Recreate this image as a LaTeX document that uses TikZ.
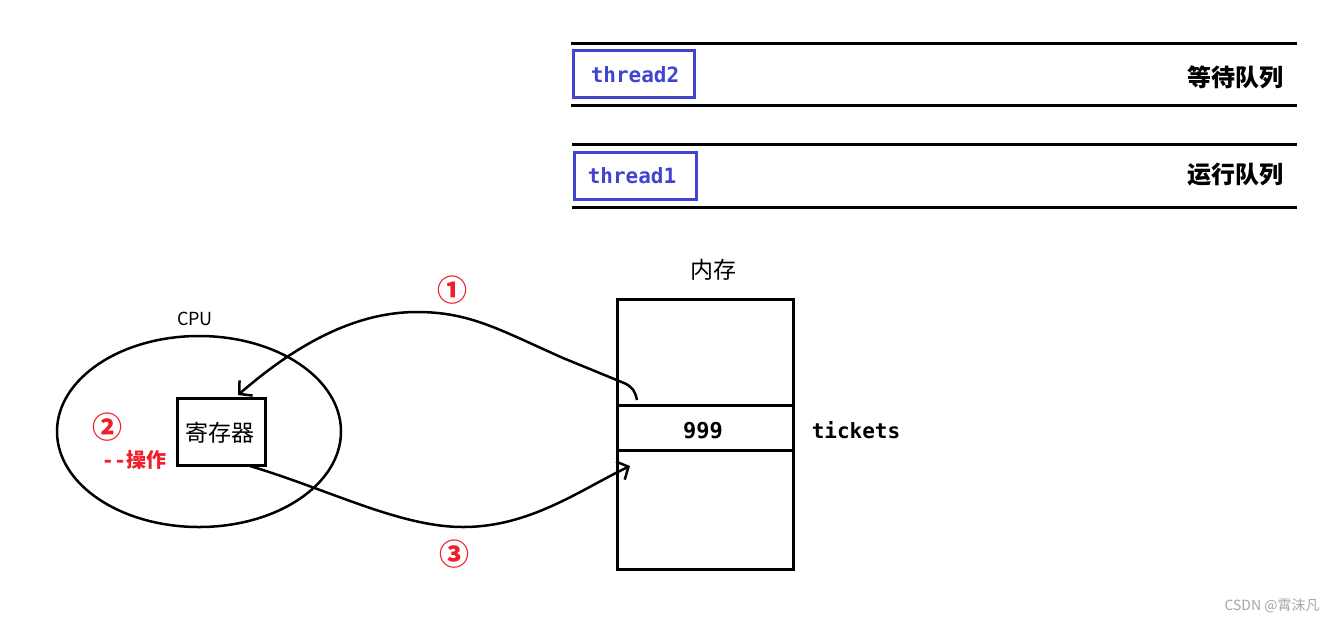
\documentclass[tikz,border=0pt]{standalone}
\usepackage{fontspec}
\setmainfont{Noto Sans CJK SC}
\newfontfamily\monof{DejaVu Sans Mono}
\usetikzlibrary{shapes.geometric,arrows.meta}
\definecolor{tblue}{RGB}{64,68,208}
\definecolor{tred}{RGB}{240,30,40}
\definecolor{wgray}{RGB}{165,165,165}
\begin{document}
\begin{tikzpicture}[x=1pt,y=-1pt,
  qline/.style={line width=3pt},
  tbox/.style={draw=tblue,line width=3pt,minimum height=47pt,inner sep=0pt},
  ttext/.style={text=tblue,font=\monof\bfseries\fontsize{21}{21}\selectfont,inner sep=0pt},
  qlabel/.style={font=\bfseries\fontsize{24}{24}\selectfont,inner sep=0pt},
  cell/.style={draw,line width=3pt,minimum width=176pt,inner sep=0pt},
  conn/.style={line width=2.5pt,-{Straight Barb[length=9pt,width=20pt]}},
  num/.style={text=tred,font=\bfseries\fontsize{30}{30}\selectfont,inner sep=0pt},
  plain/.style={inner sep=0pt}]
\useasboundingbox (0,0) rectangle (1337,622);
% queues
\draw[qline] (571,43) -- (1297,43);
\draw[qline] (571,105) -- (1297,105);
\draw[qline] (572,144) -- (1297,144);
\draw[qline] (572,207) -- (1297,207);
\node[tbox,minimum width=121pt] (t2box) at (633.5,73.5) {};
\node[ttext] (t2) at (635,75) {thread2};
\node[tbox,minimum width=122pt] (t1box) at (635,175.5) {};
\node[ttext] (t1) at (632,176) {thread1};
\node[qlabel] (wq) at (1235,77) {等待队列};
\node[qlabel] (rq) at (1235,175) {运行队列};
% memory
\node[plain,font=\fontsize{23}{23}\selectfont] (memlabel) at (713,270) {内存};
\node[cell,minimum height=106pt] (memtop) at (705,352) {};
\node[cell,minimum height=45pt] (memval) at (705,427.5) {};
\node[cell,minimum height=119pt] (membot) at (705,509.5) {};
\node[plain,font=\monof\bfseries\fontsize{22}{22}\selectfont] (val) at (703,430.5) {999};
\node[plain,font=\monof\bfseries\fontsize{21}{21}\selectfont] (tickets) at (856,430) {tickets};
% cpu
\node[draw,ellipse,line width=2.5pt,minimum width=284pt,minimum height=191pt,inner sep=0pt] (cpu) at (199,431.5) {};
\node[plain,font=\fontsize{18}{18}\selectfont] (cpulabel) at (195,319) {CPU};
\node[draw,line width=3pt,minimum width=88pt,minimum height=67pt,inner sep=0pt] (reg) at (221,431.5) {};
\node[plain,font=\fontsize{23}{23}\selectfont] (regtext) at (220,433) {寄存器};
\node[num] (n2) at (107,427) {②};
\node[plain,text=tred,font=\bfseries\fontsize{20}{20}\selectfont] (op) at (134,460) {{\monof\bfseries -{}-}操作};
\node[num] (n1) at (452,290) {①};
\node[num] (n3) at (454,554) {③};
% connectors
\coordinate (a1s) at (637,400);
\coordinate (a1e) at (238,395);
\coordinate (a3s) at (250,466);
\coordinate (a3e) at (630,466);
\draw[conn] (a1s) .. controls (635,390) and (631,386) .. (624,383)
  -- (563,358) .. controls (500,330) and (470,312) .. (417,312)
  .. controls (350,312) and (290,350) .. (a1e);
\draw[conn] (a3s) .. controls (330,490) and (400,527) .. (463,527)
  .. controls (530,527) and (580,490) .. (a3e);
% watermark
\node[plain,text=wgray,font=\fontsize{14}{14}\selectfont] (wm) at (1272,606) {CSDN @霄沫凡};
\end{tikzpicture}
\end{document}
